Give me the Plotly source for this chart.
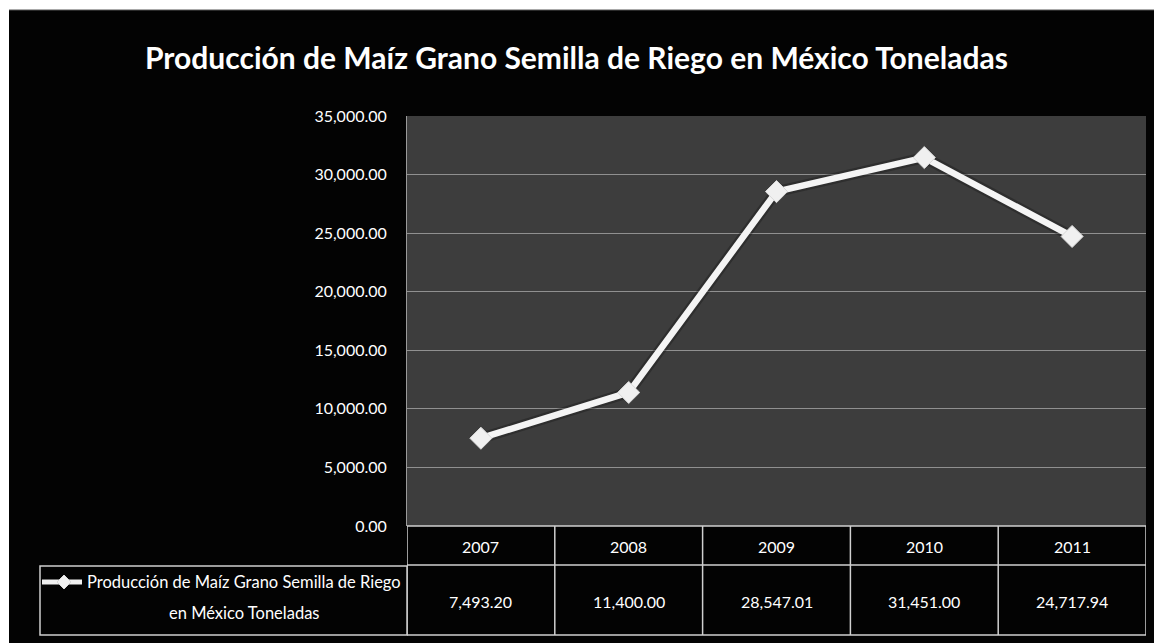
import plotly.graph_objects as go

years = ["2007", "2008", "2009", "2010", "2011"]
values = [7493.20, 11400.00, 28547.01, 31451.00, 24717.94]
value_labels = ["7,493.20", "11,400.00", "28,547.01", "31,451.00", "24,717.94"]
y_ticks = [0, 5000, 10000, 15000, 20000, 25000, 30000, 35000]
y_tick_labels = ["0.00", "5,000.00", "10,000.00", "15,000.00", "20,000.00",
                 "25,000.00", "30,000.00", "35,000.00"]
title_text = "Producción de Maíz Grano Semilla de Riego en México Toneladas"
series_name_lines = ["Producción de Maíz Grano Semilla de Riego", "en México Toneladas"]

W, H = 1154, 643
FONT = "Lato"

def px(x):
    return x / W

def py(y):
    return 1 - y / H

plot_l, plot_r, plot_t, plot_b = 407, 1146, 116, 526
row1_b, row2_b = 565, 635
leg_l = 40

xs = list(range(len(years)))

fig = go.Figure()
fig.add_trace(go.Scatter(
    x=xs, y=values, mode="lines",
    line=dict(color="rgba(20,20,20,0.35)", width=11),
    hoverinfo="skip", showlegend=False))
fig.add_trace(go.Scatter(
    x=xs, y=values, mode="lines+markers",
    line=dict(color="#f4f4f4", width=6.5),
    marker=dict(symbol="diamond", size=17, color="#f0f0f0",
                line=dict(color="#d8d8d8", width=1)),
    showlegend=False))

shapes = []
shapes.append(dict(type="rect", xref="paper", yref="paper",
                   x0=-0.01, x1=px(9), y0=-0.01, y1=1.01,
                   fillcolor="white", line=dict(width=0), layer="below"))
shapes.append(dict(type="rect", xref="paper", yref="paper",
                   x0=-0.01, x1=1.01, y0=py(10), y1=1.01,
                   fillcolor="white", line=dict(width=0), layer="below"))
shapes.append(dict(type="line", xref="paper", yref="paper",
                   x0=px(9), x1=1.01, y0=py(10), y1=py(10),
                   line=dict(color="#555555", width=1), layer="below"))
for i in range(len(years) + 1):
    xv = i - 0.5
    shapes.append(dict(type="line", xref="x", yref="paper",
                       x0=xv, x1=xv, y0=py(row2_b), y1=py(plot_b),
                       line=dict(color="#d0d0d0", width=1.5)))
for yy in (plot_b, row1_b, row2_b):
    shapes.append(dict(type="line", xref="paper", yref="paper",
                       x0=px(plot_l), x1=px(plot_r), y0=py(yy), y1=py(yy),
                       line=dict(color="#d0d0d0", width=1.5)))
shapes.append(dict(type="rect", xref="paper", yref="paper",
                   x0=px(leg_l), x1=px(plot_l), y0=py(row2_b), y1=py(row1_b + 1),
                   line=dict(color="#d0d0d0", width=1.5)))
shapes.append(dict(type="line", xref="paper", yref="paper",
                   x0=px(42), x1=px(82), y0=py(582), y1=py(582),
                   line=dict(color="#f0f0f0", width=5)))
cx, cy, r = 64, 582, 7
shapes.append(dict(type="path", xref="paper", yref="paper",
                   path=f"M {px(cx-r)} {py(cy)} L {px(cx)} {py(cy-r)} L {px(cx+r)} {py(cy)} L {px(cx)} {py(cy+r)} Z",
                   fillcolor="#f0f0f0", line=dict(color="#d8d8d8", width=1)))

annotations = []
annotations.append(dict(text="<b>" + title_text + "</b>", xref="paper", yref="paper",
                        x=px(576), y=py(57), showarrow=False,
                        font=dict(family=FONT, size=30, color="white"),
                        xanchor="center", yanchor="middle"))
for i, yr in enumerate(years):
    annotations.append(dict(text=yr, xref="x", yref="paper", x=i, y=py(546),
                            xanchor="center", yanchor="middle",
                            showarrow=False, font=dict(family=FONT, size=16, color="white")))
    annotations.append(dict(text=value_labels[i], xref="x", yref="paper", x=i, y=py(601),
                            xanchor="center", yanchor="middle",
                            showarrow=False, font=dict(family=FONT, size=16, color="white")))
annotations.append(dict(text=series_name_lines[0], xref="paper", yref="paper",
                        x=px(244), y=py(582), showarrow=False,
                        xanchor="center", yanchor="middle",
                        font=dict(family=FONT, size=16.5, color="white")))
annotations.append(dict(text=series_name_lines[1], xref="paper", yref="paper",
                        x=px(244), y=py(613), showarrow=False,
                        xanchor="center", yanchor="middle",
                        font=dict(family=FONT, size=16.5, color="white")))

fig.update_layout(
    width=W, height=H,
    autosize=False,
    margin=dict(l=0, r=0, t=0, b=0, pad=0, autoexpand=False),
    paper_bgcolor="#030303",
    plot_bgcolor="#3d3d3d",
    showlegend=False,
    shapes=shapes,
    annotations=annotations,
    xaxis=dict(domain=[px(plot_l), px(plot_r)], range=[-0.5, len(years) - 0.5],
               showgrid=False, zeroline=False, showticklabels=False, fixedrange=True,
               automargin=False),
    yaxis=dict(domain=[py(plot_b), py(plot_t)], range=[0, 35000],
               tickvals=y_ticks, ticktext=y_tick_labels,
               showgrid=True, gridcolor="#909090", gridwidth=1,
               zeroline=False, ticks="", ticklen=0,
               tickfont=dict(family=FONT, size=16, color="white"),
               showline=True, linecolor="#9a9a9a",
               ticklabelstandoff=16, automargin=False, fixedrange=True),
)

fig.write_html("out.html",
               config={"displayModeBar": False, "staticPlot": True},
               post_script="document.body.style.margin='0';document.body.style.overflow='hidden';")
